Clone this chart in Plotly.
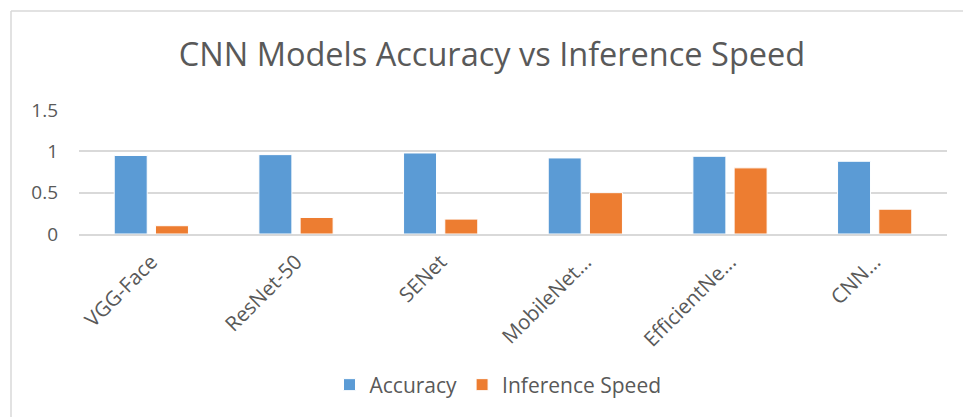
import plotly.graph_objects as go

models    = ['VGG-Face', 'ResNet-50', 'SENet', 'MobileNet...', 'EfficientNe...', 'CNN...']
accuracy  = [0.95, 0.96, 0.98, 0.92, 0.94, 0.88]
inf_speed = [0.10, 0.20, 0.18, 0.50, 0.80, 0.30]

W, H = 963, 417
L, R, T, B = 79, 16, 110, 183   # plot area 79..947 x, 110..234 y
pw, ph = W - L - R, H - T - B

def px(x):  # pixel -> paper x
    return (x - L) / pw

def py(y):  # pixel -> paper y
    return (H - B - y) / ph

font = 'Open Sans'
grey = '#595959'

fig = go.Figure()
fig.add_trace(go.Bar(x=models, y=accuracy, name='Accuracy',
                     marker=dict(color='#5B9BD5', line=dict(color='white', width=1))))
fig.add_trace(go.Bar(x=models, y=inf_speed, name='Inference Speed',
                     marker=dict(color='#ED7D31', line=dict(color='white', width=1))))

fig.update_layout(
    width=W, height=H,
    margin=dict(l=L, r=R, t=T, b=B, autoexpand=False),
    paper_bgcolor='white', plot_bgcolor='white',
    barmode='group', bargap=0.43, bargroupgap=0.2,
    font=dict(family=font, color=grey, size=17),
    title=dict(text='CNN Models Accuracy vs Inference Speed',
               x=492 / W, xanchor='center', xref='container',
               y=1 - 55 / H, yanchor='middle', yref='container',
               font=dict(size=32.5, color=grey, family=font)),
    legend=dict(orientation='h', x=498 / W, xanchor='center', xref='container',
                y=1 - 385 / H, yanchor='middle', yref='container',
                font=dict(size=21, color=grey), itemwidth=30,
                traceorder='normal'),
    showlegend=True,
)

fig.update_yaxes(range=[0, 1.5], tickvals=[0, 0.5, 1, 1.5], ticktext=['0', '0.5', '1', '1.5'],
                 showgrid=True, gridcolor='#D9D9D9', gridwidth=1.5,
                 zeroline=False, showline=False, ticks='', ticklabelstandoff=20,
                 tickfont=dict(size=19, color=grey))
fig.update_xaxes(showline=True, linecolor='#D9D9D9', linewidth=1.5, ticks='',
                 tickangle=-45, ticklabelstandoff=6, tickfont=dict(size=20.5, color=grey))

# outer chart border (left and top edges visible)
border = dict(color='#D9D9D9', width=1.5)
fig.add_shape(type='line', xref='paper', yref='paper',
              x0=px(11), x1=px(11), y0=py(11), y1=py(420), line=border)
fig.add_shape(type='line', xref='paper', yref='paper',
              x0=px(11), x1=px(965), y0=py(11), y1=py(11), line=border)

fig.write_html('out.html', config=dict(displayModeBar=False),
               post_script="document.body.style.margin='0';")
